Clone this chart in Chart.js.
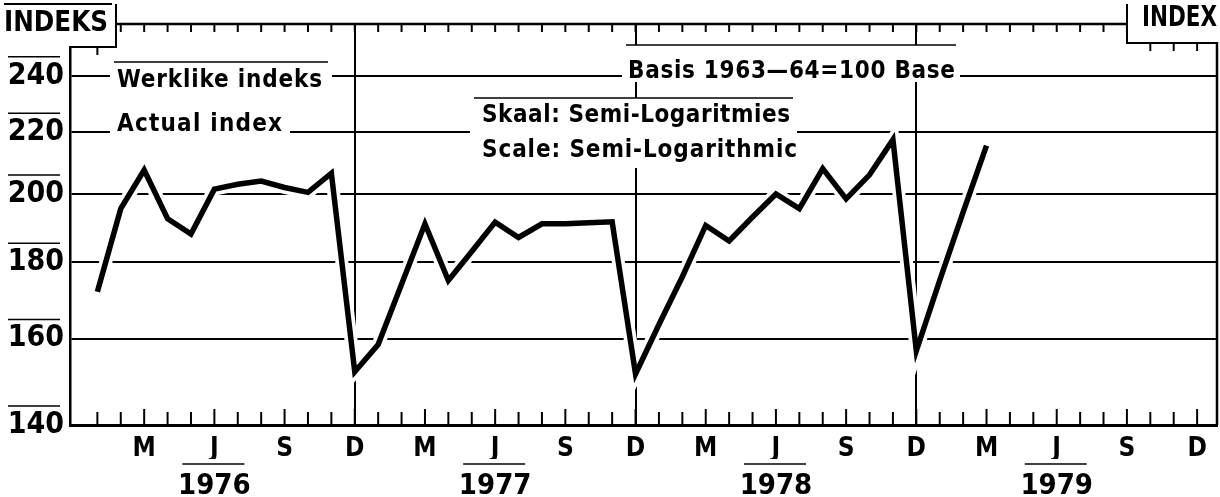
<!DOCTYPE html>
<html>
<head>
<meta charset="utf-8">
<script src="https://cdn.jsdelivr.net/npm/chart.js@4.4.0/dist/chart.umd.min.js"></script>
<style>
  html, body { margin: 0; padding: 0; background: #fff; }
  canvas { display: block; }
</style>
</head>
<body>
<canvas id="indexChart" width="1220" height="497"></canvas>
<script>
const FONT = '"DejaVu Sans Condensed", "Liberation Sans Narrow", sans-serif';

// months are counted from Dec 1975 (= 0), so Dec 1976 = 12, Dec 1979 = 48
const firstMonth = 1; // Jan 1976
const index1976 = [172, 195.5, 207.5, 192.5, 188, 201.5, 203, 204, 202, 200.5, 206.5, 152];
const index1977 = [158.5, 174, 191, 175, 183, 191.5, 187, 191, 191, 191.3, 191.6, 151.5];
const index1978 = [163.5, 176, 190.5, 186, 193, 200, 195.5, 208, 198.5, 206, 217.5, 157];
const index1979 = [175, 194.5, 215.5];

const yTicks = [140, 160, 180, 200, 220, 240];
const quarterLetters = { 3: 'M', 6: 'J', 9: 'S', 0: 'D' };
const yearLabels = ['1976', '1977', '1978', '1979'];
const yearTickMonths = [6, 18, 30, 42];

const allValues = [...index1976, ...index1977, ...index1978, ...index1979];
const points = allValues.map((v, i) => ({ x: firstMonth + i, y: v }));

function line(ctx, x1, y1, x2, y2) {
  ctx.beginPath();
  ctx.moveTo(x1, y1);
  ctx.lineTo(x2, y2);
  ctx.stroke();
}

// fit a label to the width it has in the print: squeeze it if too wide, space it out if too narrow
function spacedText(ctx, text, x, y, w) {
  ctx.save();
  const nat = ctx.measureText(text).width;
  if (nat > w || !('letterSpacing' in ctx)) {
    ctx.translate(x, y);
    ctx.scale(w / nat, 1);
    ctx.fillText(text, 0, 0);
  } else {
    ctx.letterSpacing = ((w - nat) / (text.length - 1)) + 'px';
    ctx.fillText(text, x, y);
  }
  ctx.restore();
}

const notes = [
  { box: [110, 62, 222, 33], top: true, lines: [['Werklike indeks', 117, 87, 205]] },
  { box: [110, 100, 180, 34], top: false, lines: [['Actual index', 117, 131, 165]] },
  { box: [622, 45, 338, 37], top: true, lines: [['Basis 1963\u201464=100 Base', 628, 78, 327]] },
  { box: [470, 98, 327, 70], top: true, lines: [['Skaal: Semi-Logaritmies', 482, 122, 308],
                                               ['Scale: Semi-Logarithmic', 482, 157, 315]] }
];

const framePlugin = {
  id: 'frame',
  beforeDatasetsDraw(chart) {
    const ctx = chart.ctx;
    ctx.save();
    ctx.font = 'bold 24px ' + FONT;
    ctx.textBaseline = 'alphabetic';
    notes.forEach(n => {
      const [bx, by, bw, bh] = n.box;
      ctx.fillStyle = '#fff';
      ctx.fillRect(bx, by, bw, bh);
      if (n.top) {
        ctx.strokeStyle = '#000';
        ctx.lineWidth = 1.5;
        line(ctx, bx + 4, by, bx + bw - 4, by);
      }
      ctx.fillStyle = '#000';
      n.lines.forEach(([t, x, y, w]) => spacedText(ctx, t, x, y, w));
    });
    ctx.restore();
  },
  afterDraw(chart) {
    const { ctx, chartArea: a } = chart;
    const xs = chart.scales.x, ys = chart.scales.y, x2 = chart.scales.x2;
    ctx.save();
    ctx.strokeStyle = '#000';
    ctx.lineWidth = 2.5;
    line(ctx, a.left, a.top, a.right, a.top);
    line(ctx, a.right, a.top, a.right, a.bottom);

    // corner label boxes
    ctx.fillStyle = '#fff';
    ctx.fillRect(0, 0, 116, 46);
    ctx.fillRect(1128, 0, 92, 42);
    ctx.lineWidth = 2;
    line(ctx, 4, 4, 112, 4);
    line(ctx, 116, 4, 116, 47);
    line(ctx, a.left, 47, 117, 47);
    line(ctx, 1127, 4, 1127, 43);
    line(ctx, 1126, 43, a.right, 43);
    ctx.fillStyle = '#000';
    ctx.font = 'bold 28px ' + FONT;
    spacedText(ctx, 'INDEKS', 4, 31, 104);
    spacedText(ctx, 'INDEX', 1142, 26, 75);

    // monthly tick marks, top and bottom
    ctx.lineWidth = 2;
    for (let m = 0; m <= 48; m++) {
      const px = xs.getPixelForValue(m);
      if (px - a.left < 8 || a.right - px < 8) continue;
      const top = px < 116 ? 47 : (px > 1127 ? 43 : a.top);
      line(ctx, px, top, px, top + 8);
      line(ctx, px, a.bottom, px, a.bottom - (m % 3 === 0 ? 16 : 13));
    }

    // strips above the value labels and the years
    ctx.lineWidth = 1.5;
    yTicks.forEach(v => {
      const py = ys.getPixelForValue(v);
      line(ctx, 8, py - 19, 60, py - 19);
    });
    yearTickMonths.forEach(m => {
      const px = x2.getPixelForValue(m);
      line(ctx, px - 32, 464, px + 30, 464);
    });
    ctx.restore();
  }
};

const ctx = document.getElementById('indexChart').getContext('2d');
new Chart(ctx, {
  type: 'line',
  data: {
    datasets: [{
      data: points,
      borderColor: '#000',
      borderWidth: 5.5,
      pointRadius: 0,
      tension: 0,
      borderJoinStyle: 'miter'
    }, {
      // white halo that breaks the rules where the curve crosses them
      data: points,
      borderColor: '#fff',
      borderWidth: 13,
      pointRadius: 0,
      tension: 0
    }]
  },
  options: {
    responsive: false,
    animation: false,
    devicePixelRatio: 1,
    layout: { padding: { top: 20, right: 3, left: 0, bottom: 0 } },
    plugins: { legend: { display: false }, tooltip: { enabled: false } },
    scales: {
      x: {
        type: 'linear',
        position: 'bottom',
        min: -0.17,
        max: 48.85,
        afterBuildTicks: s => { s.ticks = Array.from({ length: 49 }, (_, m) => ({ value: m })); },
        afterFit: s => { s.height = 34; },
        grid: {
          drawTicks: false,
          lineWidth: 2,
          color: c => (c.tick && c.tick.value > 0 && c.tick.value < 48 && c.tick.value % 12 === 0) ? '#000' : 'rgba(0,0,0,0)'
        },
        border: { display: true, color: '#000', width: 3 },
        ticks: {
          autoSkip: false,
          maxRotation: 0,
          padding: 9,
          color: '#000',
          font: { family: FONT, size: 26, weight: 'bold' },
          callback: v => (v > 0 && v % 3 === 0) ? quarterLetters[v % 12] : ''
        }
      },
      x2: {
        type: 'linear',
        position: 'bottom',
        min: -0.17,
        max: 48.85,
        afterBuildTicks: s => { s.ticks = yearTickMonths.map(m => ({ value: m })); },
        afterFit: s => { s.height = 38; },
        grid: { display: false },
        border: { display: false },
        ticks: {
          autoSkip: false,
          maxRotation: 0,
          padding: 2,
          color: '#000',
          font: { family: FONT, size: 29, weight: 'bold' },
          callback: v => yearLabels[yearTickMonths.indexOf(v)]
        }
      },
      y: {
        type: 'logarithmic',
        min: 140,
        max: 260,
        afterBuildTicks: s => { s.ticks = yTicks.map(v => ({ value: v })); },
        afterFit: s => { s.width = 70; },
        grid: { drawTicks: false, lineWidth: 2, color: '#000' },
        border: { display: true, color: '#000', width: 2.5 },
        ticks: {
          padding: 6,
          color: '#000',
          font: { family: FONT, size: 30, weight: 'bold' },
          callback: v => String(v)
        }
      }
    }
  },
  plugins: [framePlugin]
});
</script>
</body>
</html>
